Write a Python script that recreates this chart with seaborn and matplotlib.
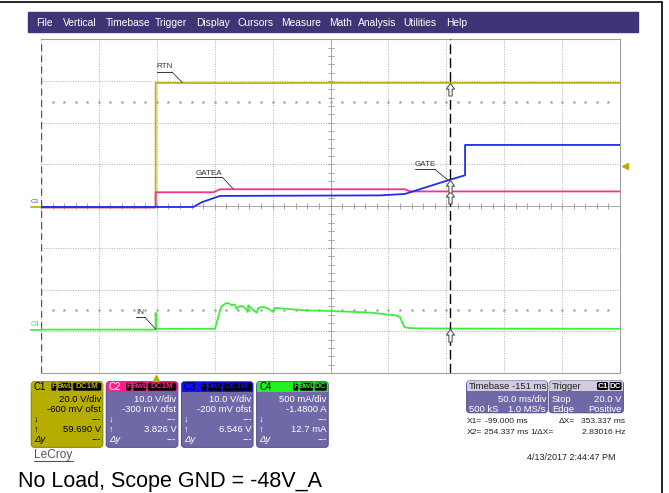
import numpy as np
import pandas as pd
import matplotlib
matplotlib.use("Agg")
import matplotlib.pyplot as plt
from matplotlib.patches import FancyBboxPatch, Rectangle
from matplotlib.path import Path
import seaborn as sns

sns.set_style("white")
plt.rcParams['font.family'] = ['Liberation Sans', 'DejaVu Sans']
narrow = ['Liberation Sans Narrow', 'Liberation Sans', 'DejaVu Sans']

# ---- scope settings -------------------------------------------------------
ch_names = ['C1', 'C2', 'C3', 'C4']
ch_vdiv = [20.0, 10.0, 10.0, 0.5]          # V/div (A/div for C4)
ch_ofst = [-0.6, -0.3, -0.2, -1.48]        # offset
ch_colors = ['#BDB50C', '#F5338D', '#1F2EEE', '#3DEF3D']
box_colors = ['#B5AE00', '#FF1F8A', '#1010F0', '#22F022']

t_left, t_right = -99.0, 401.0              # ms, 50 ms/div
x1_ms, x2_ms = -99.0, 254.337
cursor_vals = [59.690, 3.826, 6.546, 0.0127]
trig_level = 20.0

# ---- traces (time in ms) --------------------------------------------------
t_rtn = [-99, 0, 0, 60, 150, 250, 401]
v_rtn = [0.0, 0.0, 59.7, 59.6, 59.7, 59.7, 59.7]

t_gatea = [-99, 0, 0, 49.8, 55.6, 215.3, 219.7, 401]
v_gatea = [0.0, 0.0, 3.63, 3.63, 4.35, 4.35, 3.83, 3.83]

t_gate = [-99, 32.5, 39.8, 55.6, 193.8, 215.3, 254.3, 267.2, 267.2, 401]
v_gate = [0.0, 0.0, 1.14, 2.65, 2.78, 3.13, 6.55, 7.6, 14.87, 14.87]

t_in = [-99, 0, 0, 0.6, 51.3, 56.4, 59.9, 62.8, 65.7, 67.0, 68.5, 70.0, 71.4,
        74.3, 77.2, 79.5, 80.0, 83.0, 87.3, 88.7, 93.0, 97.3, 101.6, 103.1,
        111.7, 117.5, 129.0, 149.1, 172.2, 186.6, 198.1, 206.7, 211.0, 214.7,
        218.2, 226.8, 254.3, 401]
i_in = [0.0, 0.0, 0.2, 0.01, 0.01, 0.27, 0.311, 0.319, 0.292, 0.30, 0.299,
        0.244, 0.272, 0.284, 0.260, 0.212, 0.292, 0.251, 0.203, 0.260, 0.272,
        0.251, 0.212, 0.260, 0.251, 0.244, 0.232, 0.224, 0.212, 0.203, 0.184,
        0.172, 0.152, 0.032, 0.020, 0.015, 0.0127, 0.01]

traces = [(t_rtn, v_rtn), (t_gatea, v_gatea), (t_gate, v_gate), (t_in, i_in)]


def to_div(v, k):
    return (np.asarray(v, dtype=float) + ch_ofst[k]) / ch_vdiv[k]


# ---- figure ---------------------------------------------------------------
W, H = 669, 493
fig = plt.figure(figsize=(W / 100, H / 100), dpi=100)

# overlay in pixel units for the instrument chrome
ov = fig.add_axes([0, 0, 1, 1])
ov.set_xlim(0, W)
ov.set_ylim(H, 0)
ov.axis('off')

ov.plot([0, 662], [2, 2], color='black', lw=1.2)
ov.plot([662, 662], [2, H], color='black', lw=1.2)

ov.add_patch(Rectangle((28, 12), 610, 20, color='#3E3476'))
menu_items = ['File', 'Vertical', 'Timebase', 'Trigger', 'Display', 'Cursors',
              'Measure', 'Math', 'Analysis', 'Utilities', 'Help']
menu_x = [36, 63, 106, 155, 196, 238, 281, 329, 358, 403, 446]
for lbl, mx in zip(menu_items, menu_x):
    ov.text(mx, 22.5, lbl, color='white', fontsize=7.4, va='center', ha='left',
            family=narrow)

# ---- graticule ------------------------------------------------------------
L, R, T, B = 41, 620, 39.3, 373
ax = fig.add_axes([L / W, 1 - B / H, (R - L) / W, (B - T) / H], zorder=2)
ax.set_facecolor('white')
ax.set_xlim(t_left, t_right)
ax.set_ylim(-4, 4)
ax.set_xticks(np.arange(t_left, t_right + 1, 50))
ax.set_yticks(np.arange(-4, 5, 1))
ax.tick_params(length=0, labelbottom=False, labelleft=False)
ax.grid(True, color='#B0B0B0', ls=(0, (1, 1.5)), lw=0.7)
for s in ['top', 'right', 'bottom']:
    ax.spines[s].set_color('#A0A0A0')
    ax.spines[s].set_linewidth(0.8)
ax.spines['left'].set_visible(False)

tc = (t_left + t_right) / 2
ax.axvline(tc, color='#A8A8A8', lw=0.7)
ax.axhline(0, color='#A8A8A8', lw=0.7)
ax.plot(np.arange(t_left, t_right, 10), np.zeros(50), ls='none', marker='|',
        ms=4, mew=0.6, color='#999999')
ax.plot(np.full(40, tc), np.arange(-4, 4, 0.2), ls='none', marker='_',
        ms=4, mew=0.6, color='#999999')
for yy in (2.5, -2.5):
    ax.plot(np.arange(t_left + 10, t_right, 10), np.full(49, yy), ls='none',
            marker='s', ms=0.8, color='#A8A8A8')

# traces
for k, (tt, vv) in enumerate(traces):
    sns.lineplot(x=np.asarray(tt, dtype=float), y=to_div(vv, k), sort=False,
                 estimator=None, color=ch_colors[k], lw=1.3, ax=ax, zorder=3)

# ground markers at left
ax.plot([-108, -99], [to_div(0, 0)] * 2, color=ch_colors[0], lw=1.3, clip_on=False)
ax.plot([-108, -99], [to_div(0, 3)] * 2, color=ch_colors[3], lw=1.3, clip_on=False)
ax.text(-108, to_div(0, 2) + 0.13, 'C3', fontsize=4.5, color='#3B4FB0',
        ha='left', va='center', clip_on=False)
ax.text(-108, to_div(0, 3) + 0.13, 'C4', fontsize=5, color=ch_colors[3],
        ha='left', va='center', clip_on=False)

# trigger markers
ax.plot(0, -4.13, marker='^', ms=5, color='#B5AE00', clip_on=False)
ax.plot(t_right + 4.5, to_div(trig_level, 0), marker='<', ms=5,
        color='#B5AE00', clip_on=False)

# cursors
ax.axvline(x1_ms, color='#555555', lw=1.0, ls=(0, (5, 3)))
ax.axvline(x2_ms, color='black', lw=1.0, ls=(0, (7, 3)), zorder=4)
arrow = Path([(0, 0), (-0.33, -0.45), (-0.13, -0.45), (-0.13, -1.0),
              (0.13, -1.0), (0.13, -0.45), (0.33, -0.45), (0, 0)],
             [Path.MOVETO] + [Path.LINETO] * 6 + [Path.CLOSEPOLY])
for k, cv in enumerate(cursor_vals):
    ax.plot(x2_ms, to_div(cv, k), marker=arrow, ms=18, mfc='white',
            mec='#555555', mew=0.8, ls='none', zorder=5)


# trace labels
def tag(text, tx, ty, ux, uy, px, py):
    ax.text(tx, ty, text, fontsize=5.8, color='#333333', ha='left',
            va='center', zorder=6)
    ax.plot([tx, ux], [uy, uy], color='#333333', lw=0.7, zorder=6)
    ax.plot([ux, px], [uy, py], color='#333333', lw=0.6, zorder=6)


tag('RTN', 0.9, 3.345, 14.1, 3.217, 23.0, 2.961)
tag('GATEA', 34.6, 0.789, 57.6, 0.693, 67.1, 0.412)
tag('GATE', 224.0, 0.988, 241.2, 0.88, 252.7, 0.621)
tag('IN', -17.0, -2.553, -9.2, -2.668, 0.3, -2.956)

# ---- channel boxes --------------------------------------------------------
body = '#7069A8'
box_l = [31.3, 106.3, 181.5, 256.7]
bw, top, bot = 71.5, 381.7, 447.3
badges = [['F', 'BwL', 'DC1M'], ['F', 'BwL', 'DC1M'], ['F', 'BwL', 'DC1M'],
          ['F', 'BwL', 'DC']]
badge_w = {'F': 6.0, 'BwL': 14.5, 'DC1M': 29.5, 'DC': 13.0, 'C1': 12.0}
vdiv_txt = ['20.0 V/div', '10.0 V/div', '10.0 V/div', '500 mA/div']
ofst_txt = ['-600 mV ofst', '-300 mV ofst', '-200 mV ofst', '-1.4800 A']
val_txt = ['59.690 V', '3.826 V', '6.546 V', '12.7 mA']
fs = 6.8


def badge(x_right, y, label, fc, tcol):
    w = badge_w[label]
    ov.add_patch(FancyBboxPatch((x_right - w + 0.5, y - 4), w - 1, 8,
                                boxstyle='round,pad=0,rounding_size=1.5',
                                fc=fc, ec='none'))
    ov.text(x_right - w / 2, y + 0.3, label, fontsize=5.8, color=tcol,
            ha='center', va='center', fontweight='bold')
    return x_right - w - 0.5


for k in range(4):
    x0 = box_l[k]
    bcol = box_colors[0] if k == 0 else body
    txt = 'black' if k == 0 else 'white'
    p = FancyBboxPatch((x0, top), bw, bot - top,
                       boxstyle='round,pad=0,rounding_size=3',
                       fc=bcol, ec='#55508A' if k else '#8A8400', lw=0.8)
    ov.add_patch(p)
    hdr = Rectangle((x0, top), bw, 10, fc=box_colors[k], ec='none')
    ov.add_patch(hdr)
    hdr.set_clip_path(p)
    hcol = 'white' if k == 1 else 'black'
    ov.text(x0 + 2.5, top + 5.2, ch_names[k], fontsize=7, color=hcol,
            ha='left', va='center')
    xr = x0 + bw - 1
    for b in reversed(badges[k]):
        xr = badge(xr, top + 5, b, 'black', box_colors[k] if k else '#B5AE00')
    rows = [vdiv_txt[k], ofst_txt[k], '---', val_txt[k], '---']
    for j, r in enumerate(rows):
        ov.text(x0 + bw - 1.5, top + 17.6 + 10 * j, r, fontsize=fs, color=txt,
                ha='right', va='center')
    ov.text(x0 + 2.5, top + 37.6, '\u2193', fontsize=fs, color=txt, ha='left', va='center')
    ov.text(x0 + 2.5, top + 47.6, '\u2191', fontsize=fs, color=txt, ha='left', va='center')
    ov.text(x0 + 2.5, top + 57.6, '\u0394y', fontsize=fs, color=txt, ha='left',
            va='center', style='italic')

# timebase / trigger boxes
for x0, w in [(466.7, 80.6), (549.3, 74.0)]:
    p = FancyBboxPatch((x0, 381), w, 31.7, boxstyle='round,pad=0,rounding_size=3',
                       fc=body, ec='#55508A', lw=0.8)
    ov.add_patch(p)
    h = Rectangle((x0, 381), w, 10, fc='#CFCCE0', ec='none')
    ov.add_patch(h)
    h.set_clip_path(p)

ov.text(469, 386.3, 'Timebase', fontsize=fs, color='#222222', ha='left', va='center')
ov.text(546, 386.3, '-151 ms', fontsize=fs, color='#222222', ha='right', va='center')
ov.text(546, 399.3, '50.0 ms/div', fontsize=fs, color='white', ha='right', va='center')
ov.text(469, 409.3, '500 kS', fontsize=fs, color='white', ha='left', va='center')
ov.text(546, 409.3, '1.0 MS/s', fontsize=fs, color='white', ha='right', va='center')
ov.text(552, 386.3, 'Trigger', fontsize=fs, color='#222222', ha='left', va='center')
xr = badge(622, 386, 'DC', 'black', 'white')
badge(xr, 386, 'C1', 'black', 'white')
ov.text(552, 399.3, 'Stop', fontsize=fs, color='white', ha='left', va='center')
ov.text(621.5, 399.3, '20.0 V', fontsize=fs, color='white', ha='right', va='center')
ov.text(552, 409.3, 'Edge', fontsize=fs, color='white', ha='left', va='center')
ov.text(621.5, 409.3, 'Positive', fontsize=fs, color='white', ha='right', va='center')

dx = x2_ms - x1_ms
cur_col = '#222222'
cfs = 6.1
ov.text(467, 421.7, 'X1=', fontsize=cfs, color=cur_col, ha='left', va='center', family=narrow)
ov.text(528, 421.7, f'{x1_ms:.3f} ms', fontsize=cfs, color=cur_col, ha='right', va='center', family=narrow)
ov.text(575, 421.7, '\u0394X=', fontsize=cfs, color=cur_col, ha='right', va='center', family=narrow)
ov.text(625, 421.7, f'{dx:.3f} ms', fontsize=cfs, color=cur_col, ha='right', va='center', family=narrow)
ov.text(467, 432.7, 'X2=', fontsize=cfs, color=cur_col, ha='left', va='center', family=narrow)
ov.text(528, 432.7, f'{x2_ms:.3f} ms', fontsize=cfs, color=cur_col, ha='right', va='center', family=narrow)
ov.text(554, 432.7, '1/\u0394X=', fontsize=cfs, color=cur_col, ha='right', va='center', family=narrow)
ov.text(626, 432.7, f'{1000 / dx:.5f} Hz', fontsize=cfs, color=cur_col, ha='right', va='center', family=narrow)

ov.text(527, 457, '4/13/2017 2:44:47 PM', fontsize=6.5, color='#222222',
        ha='left', va='center')
ov.text(34, 455, 'LeCroy', fontsize=8.6, color='#555555', ha='left', va='center')
ov.plot([34, 72.5], [460.5, 460.5], color='#555555', lw=0.8)

ov.text(18, 481, 'No Load, Scope GND = -48V_A', fontsize=15.5, color='black',
        ha='left', va='center')

fig.savefig('out.png', dpi=100)
